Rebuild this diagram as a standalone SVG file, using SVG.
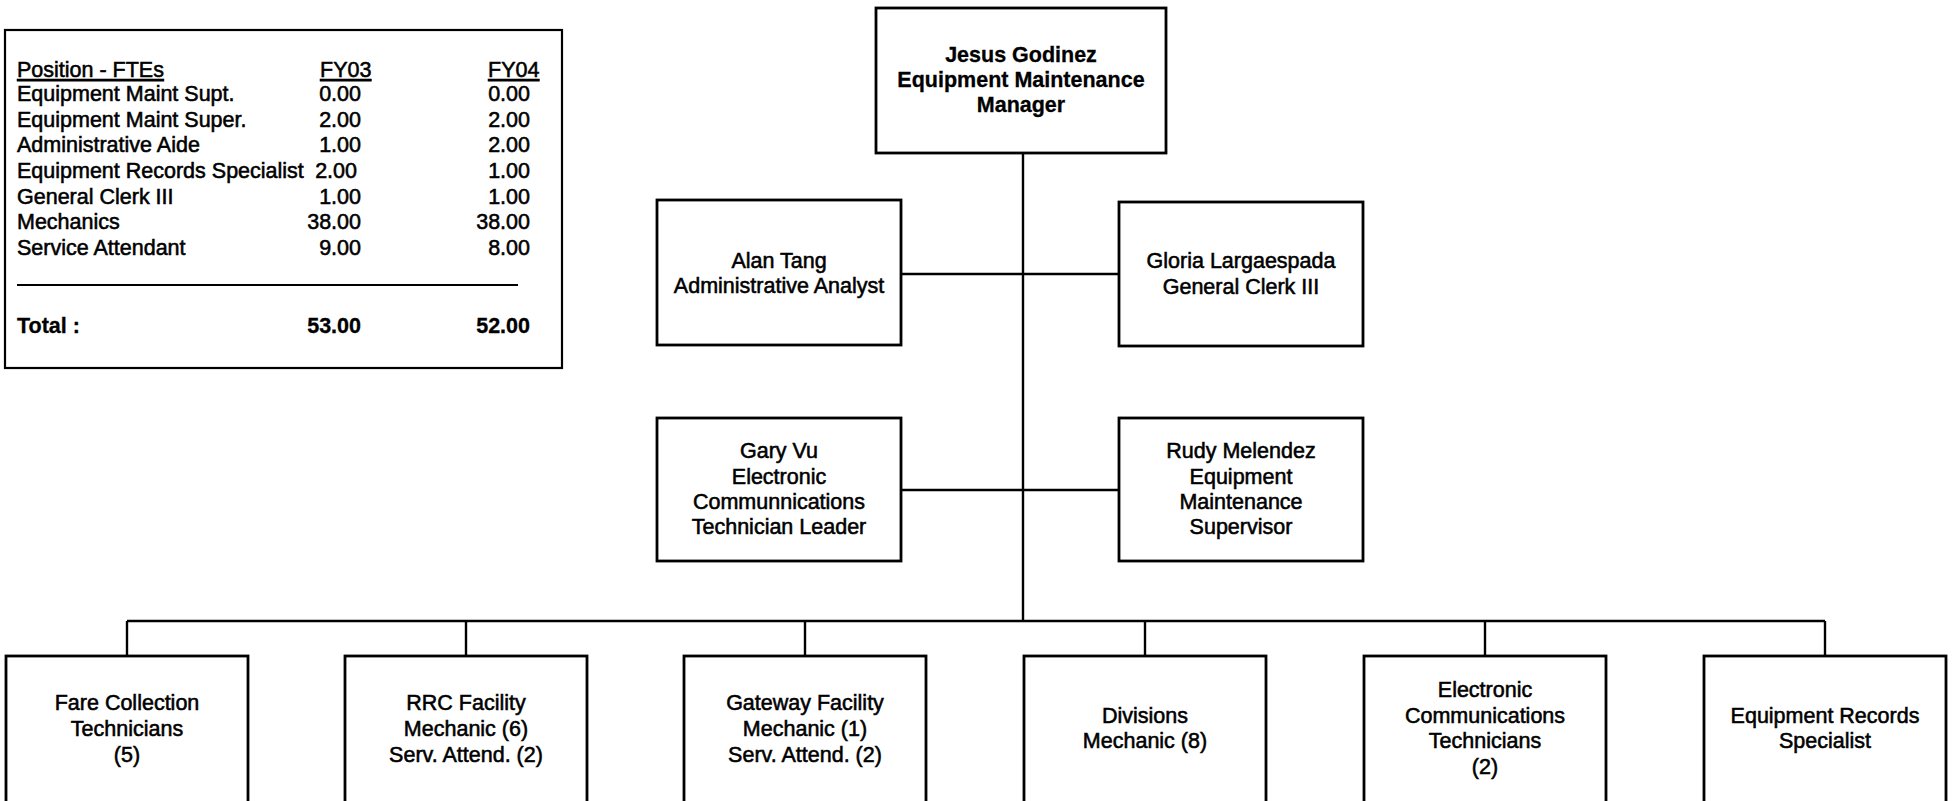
<svg xmlns="http://www.w3.org/2000/svg" width="1954" height="801" viewBox="0 0 1954 801">
<style>
  text { font-family: "Liberation Sans", Arial, sans-serif; font-size: 21.5px; fill: #000; stroke: #000; stroke-width: 0.55; }
  .c { text-anchor: middle; }
  .r { text-anchor: end; }
  .b { font-weight: bold; stroke-width: 0.3; }
  .u { text-decoration: underline; }
  .box { fill: #fff; stroke: #000; stroke-width: 2.8; }
  .ln { stroke: #000; stroke-width: 2.4; fill: none; }
</style>
<rect width="1954" height="801" fill="#fff"/>

<g id="fte-table">
  <rect x="5" y="30" width="557" height="338" fill="#fff" stroke="#000" stroke-width="2.2"/>
  <text x="17" y="77" class="u">Position - FTEs</text>
  <text x="320" y="77" class="u">FY03</text>
  <text x="488" y="77" class="u">FY04</text>
  <text x="17" y="101">Equipment Maint Supt.</text>
  <text x="361" y="101" class="r">0.00</text>
  <text x="530" y="101" class="r">0.00</text>
  <text x="17" y="127">Equipment Maint Super.</text>
  <text x="361" y="127" class="r">2.00</text>
  <text x="530" y="127" class="r">2.00</text>
  <text x="17" y="152">Administrative Aide</text>
  <text x="361" y="152" class="r">1.00</text>
  <text x="530" y="152" class="r">2.00</text>
  <text x="17" y="178">Equipment Records Specialist</text>
  <text x="357" y="178" class="r">2.00</text>
  <text x="530" y="178" class="r">1.00</text>
  <text x="17" y="204">General Clerk III</text>
  <text x="361" y="204" class="r">1.00</text>
  <text x="530" y="204" class="r">1.00</text>
  <text x="17" y="229">Mechanics</text>
  <text x="361" y="229" class="r">38.00</text>
  <text x="530" y="229" class="r">38.00</text>
  <text x="17" y="255">Service Attendant</text>
  <text x="361" y="255" class="r">9.00</text>
  <text x="530" y="255" class="r">8.00</text>
  <line x1="17" y1="285" x2="518" y2="285" stroke="#000" stroke-width="2.2"/>
  <text x="17" y="333" class="b">Total :</text>
  <text x="361" y="333" class="r b">53.00</text>
  <text x="530" y="333" class="r b">52.00</text>
</g>

<g id="connectors">
  <line class="ln" x1="1023" y1="153" x2="1023" y2="621"/>
  <line class="ln" x1="901" y1="274" x2="1119" y2="274"/>
  <line class="ln" x1="901" y1="490" x2="1119" y2="490"/>
  <line class="ln" x1="127" y1="621" x2="1825" y2="621"/>
  <line class="ln" x1="127" y1="621" x2="127" y2="656"/>
  <line class="ln" x1="466" y1="621" x2="466" y2="656"/>
  <line class="ln" x1="805" y1="621" x2="805" y2="656"/>
  <line class="ln" x1="1145" y1="621" x2="1145" y2="656"/>
  <line class="ln" x1="1485" y1="621" x2="1485" y2="656"/>
  <line class="ln" x1="1825" y1="621" x2="1825" y2="656"/>
</g>

<g id="node-jesus">
  <rect class="box" x="876" y="8" width="290" height="145"/>
  <text x="1021" y="62" class="c b">Jesus Godinez</text>
  <text x="1021" y="87" class="c b">Equipment Maintenance</text>
  <text x="1021" y="112" class="c b">Manager</text>
</g>

<g id="node-alan">
  <rect class="box" x="657" y="200" width="244" height="145"/>
  <text x="779" y="268" class="c">Alan Tang</text>
  <text x="779" y="293" class="c">Administrative Analyst</text>
</g>

<g id="node-gloria">
  <rect class="box" x="1119" y="202" width="244" height="144"/>
  <text x="1241" y="268" class="c">Gloria Largaespada</text>
  <text x="1241" y="294" class="c">General Clerk III</text>
</g>

<g id="node-gary">
  <rect class="box" x="657" y="418" width="244" height="143"/>
  <text x="779" y="458" class="c">Gary Vu</text>
  <text x="779" y="484" class="c">Electronic</text>
  <text x="779" y="509" class="c">Communnications</text>
  <text x="779" y="534" class="c">Technician Leader</text>
</g>

<g id="node-rudy">
  <rect class="box" x="1119" y="418" width="244" height="143"/>
  <text x="1241" y="458" class="c">Rudy Melendez</text>
  <text x="1241" y="484" class="c">Equipment</text>
  <text x="1241" y="509" class="c">Maintenance</text>
  <text x="1241" y="534" class="c">Supervisor</text>
</g>

<g id="node-fare">
  <rect class="box" x="6" y="656" width="242" height="160"/>
  <text x="127" y="710" class="c">Fare Collection</text>
  <text x="127" y="736" class="c">Technicians</text>
  <text x="127" y="762" class="c">(5)</text>
</g>

<g id="node-rrc">
  <rect class="box" x="345" y="656" width="242" height="160"/>
  <text x="466" y="710" class="c">RRC Facility</text>
  <text x="466" y="736" class="c">Mechanic (6)</text>
  <text x="466" y="762" class="c">Serv. Attend. (2)</text>
</g>

<g id="node-gateway">
  <rect class="box" x="684" y="656" width="242" height="160"/>
  <text x="805" y="710" class="c">Gateway Facility</text>
  <text x="805" y="736" class="c">Mechanic (1)</text>
  <text x="805" y="762" class="c">Serv. Attend. (2)</text>
</g>

<g id="node-divisions">
  <rect class="box" x="1024" y="656" width="242" height="160"/>
  <text x="1145" y="723" class="c">Divisions</text>
  <text x="1145" y="748" class="c">Mechanic (8)</text>
</g>

<g id="node-ect">
  <rect class="box" x="1364" y="656" width="242" height="160"/>
  <text x="1485" y="697" class="c">Electronic</text>
  <text x="1485" y="723" class="c">Communications</text>
  <text x="1485" y="748" class="c">Technicians</text>
  <text x="1485" y="774" class="c">(2)</text>
</g>

<g id="node-ers">
  <rect class="box" x="1704" y="656" width="242" height="160"/>
  <text x="1825" y="723" class="c">Equipment Records</text>
  <text x="1825" y="748" class="c">Specialist</text>
</g>
</svg>
